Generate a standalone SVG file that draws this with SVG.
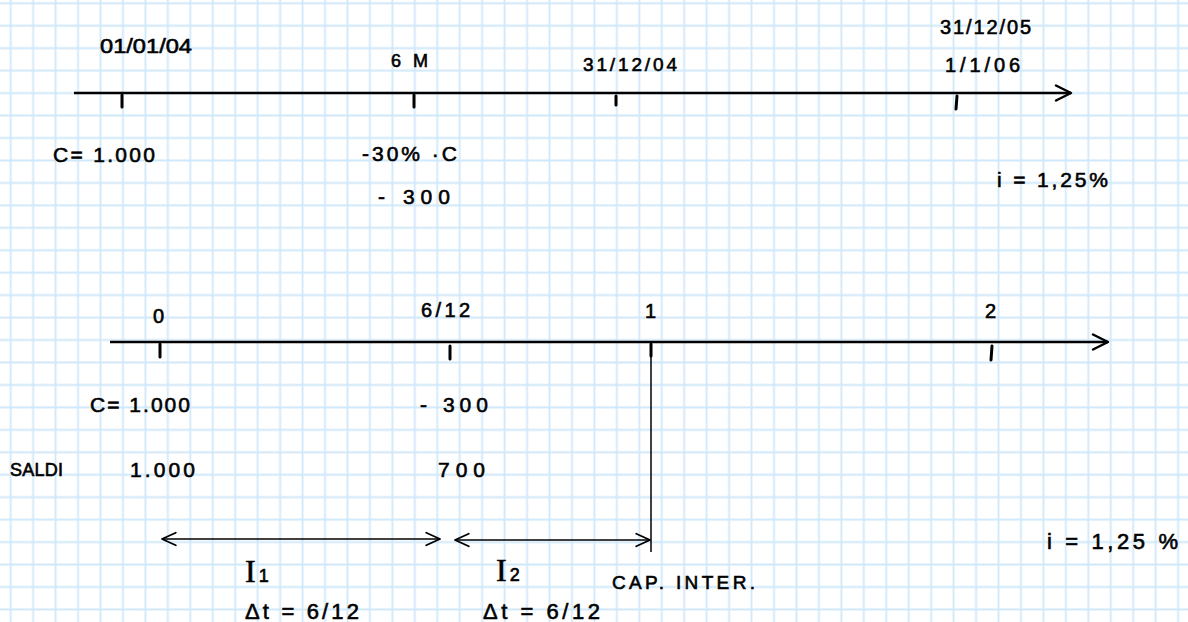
<svg xmlns="http://www.w3.org/2000/svg" width="1188" height="622" viewBox="0 0 1188 622">
  <defs>
    <pattern id="grid" patternUnits="userSpaceOnUse" x="-0.525" y="-7.925" width="22.45" height="22.45">
      <path d="M11.225 0 V22.45 M0 11.225 H22.45" stroke="#cfe8fa" stroke-width="1.8" fill="none"/>
    </pattern>
    <marker id="chev" markerUnits="userSpaceOnUse" markerWidth="20" markerHeight="20" refX="0" refY="0" viewBox="-14 -8 16 16" orient="auto-start-reverse">
      <path d="M-12,-6 L0,0 L-12,6" fill="none" stroke="#000" stroke-width="2" stroke-linecap="round" stroke-linejoin="round"/>
    </marker>
    <marker id="chevs" markerUnits="userSpaceOnUse" markerWidth="20" markerHeight="20" refX="0" refY="0" viewBox="-14 -8 16 16" orient="auto-start-reverse">
      <path d="M-11,-5 L0,0 L-11,5" fill="none" stroke="#000" stroke-width="1.5" stroke-linecap="round" stroke-linejoin="round"/>
    </marker>
    <style>
      .t { font-family: "Liberation Sans", "DejaVu Sans", sans-serif; fill: #000; stroke: #000; stroke-width: 0.6; }
      .axis { stroke: #000; stroke-width: 2.5; fill: none; }
      .tick { stroke: #000; stroke-width: 3; stroke-linecap: round; }
      .thin { stroke: #000; stroke-width: 1.5; fill: none; }
    </style>
  </defs>
  <rect width="1188" height="622" fill="#ffffff"/>
  <rect width="1188" height="622" fill="url(#grid)"/>

  <g id="connectors">
    <line id="axis-top" class="axis" x1="74" y1="93" x2="1071" y2="93" marker-end="url(#chev)"/>
    <line id="axis-bottom" class="axis" x1="110" y1="342" x2="1108" y2="342" marker-end="url(#chev)"/>
    <line id="cap-line" class="thin" x1="651" y1="342" x2="651" y2="552"/>
    <line id="arrow-i1" class="thin" x1="162" y1="539" x2="440" y2="539" marker-start="url(#chevs)" marker-end="url(#chevs)"/>
    <line id="arrow-i2" class="thin" x1="455" y1="540" x2="650" y2="540" marker-start="url(#chevs)" marker-end="url(#chevs)"/>
  </g>

  <g id="ticks-top">
    <line class="tick" x1="122" y1="95" x2="122" y2="107"/>
    <line class="tick" x1="414" y1="95" x2="414" y2="107"/>
    <line class="tick" x1="616" y1="96" x2="616" y2="105"/>
    <line class="tick" x1="957" y1="96" x2="956" y2="109"/>
  </g>
  <g id="ticks-bottom">
    <line class="tick" x1="160" y1="344" x2="160" y2="357"/>
    <line class="tick" x1="450" y1="346" x2="450" y2="359"/>
    <line class="tick" x1="651" y1="344" x2="651" y2="356"/>
    <line class="tick" x1="992" y1="346" x2="991" y2="360"/>
  </g>

  <g id="labels-top">
    <text id="d-010104" class="t" x="100" y="53" font-size="21" textLength="92" lengthAdjust="spacingAndGlyphs">01/01/04</text>
    <text id="d-6m" class="t" x="391" y="67" font-size="18" textLength="37" lengthAdjust="spacing">6 M</text>
    <text id="d-311204" class="t" x="583" y="71" font-size="19" textLength="94" lengthAdjust="spacing">31/12/04</text>
    <text id="d-311205" class="t" x="940" y="34" font-size="20" textLength="91" lengthAdjust="spacing">31/12/05</text>
    <text id="d-1106" class="t" x="945" y="72" font-size="20" textLength="75" lengthAdjust="spacing">1/1/06</text>
    <text id="c-top" class="t" x="53" y="162" font-size="21" textLength="102" lengthAdjust="spacing">C= 1.000</text>
    <text id="pct-top" class="t" x="362" y="161" font-size="21" textLength="95" lengthAdjust="spacing">-30% ·C</text>
    <text id="m300-top" class="t" x="378" y="204" font-size="21" textLength="72" lengthAdjust="spacing">- 300</text>
    <text id="rate-top" class="t" x="997" y="187" font-size="21" textLength="111" lengthAdjust="spacing">i = 1,25%</text>
  </g>

  <g id="labels-bottom">
    <text id="t0" class="t" x="153" y="323" font-size="20">0</text>
    <text id="t612" class="t" x="421" y="317" font-size="20" textLength="49" lengthAdjust="spacing">6/12</text>
    <text id="t1" class="t" x="645" y="318" font-size="20">1</text>
    <text id="t2" class="t" x="985" y="318" font-size="20">2</text>
    <text id="c-bot" class="t" x="90" y="412" font-size="21" textLength="100" lengthAdjust="spacing">C= 1.000</text>
    <text id="m300-bot" class="t" x="420" y="412" font-size="21" textLength="68" lengthAdjust="spacing">- 300</text>
    <text id="saldi" class="t" x="10" y="476" font-size="18" textLength="53" lengthAdjust="spacing">SALDI</text>
    <text id="s1000" class="t" x="130" y="477" font-size="21" textLength="65" lengthAdjust="spacing">1.000</text>
    <text id="s700" class="t" x="438" y="477" font-size="21" textLength="47" lengthAdjust="spacing">700</text>
  </g>

  <g id="interval-1">
    <text class="t" x="245" y="582" font-size="32" style="font-family:'Liberation Serif', serif">I<tspan font-size="18" dx="3" style="font-family:'Liberation Sans', sans-serif">1</tspan></text>
    <text class="t" x="245" y="619" font-size="22" textLength="114" lengthAdjust="spacing">Δt = 6/12</text>
  </g>
  <g id="interval-2">
    <text class="t" x="496" y="581" font-size="32" style="font-family:'Liberation Serif', serif">I<tspan font-size="18" dx="3" style="font-family:'Liberation Sans', sans-serif">2</tspan></text>
    <text class="t" x="483" y="619" font-size="22" textLength="117" lengthAdjust="spacing">Δt = 6/12</text>
  </g>
  <g id="cap-inter">
    <text class="t" x="612" y="589" font-size="19" textLength="143" lengthAdjust="spacing">CAP. INTER.</text>
  </g>
  <g id="rate-bottom">
    <text class="t" x="1047" y="549" font-size="22" textLength="131" lengthAdjust="spacing">i = 1,25 %</text>
  </g>
</svg>
